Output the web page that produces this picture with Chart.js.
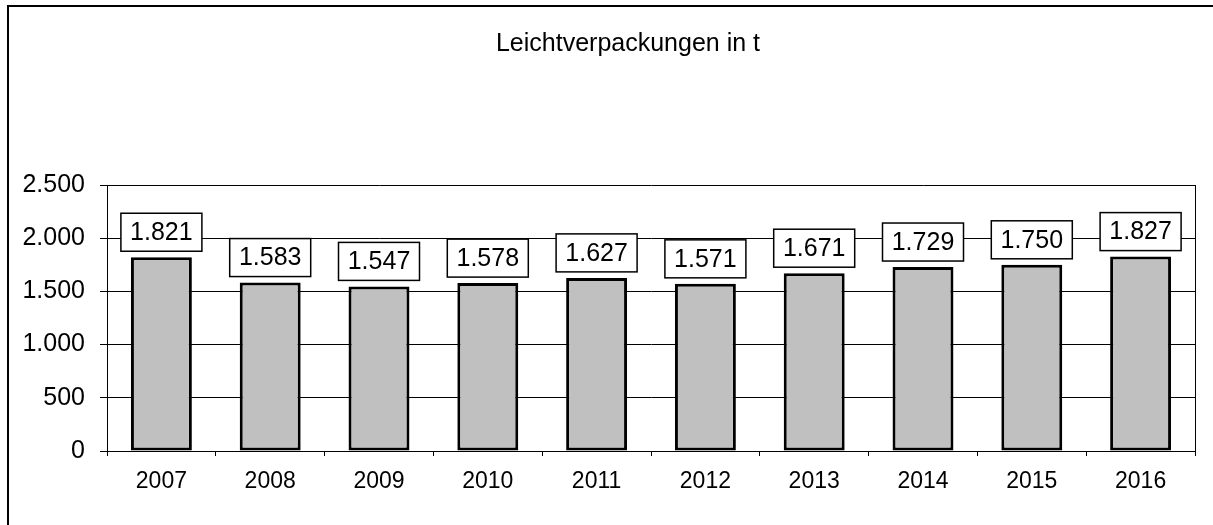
<!DOCTYPE html>
<html>
<head>
<meta charset="utf-8">
<script src="https://cdn.jsdelivr.net/npm/chart.js@4/dist/chart.umd.min.js"></script>
<style>
  html, body { margin: 0; padding: 0; background: #fff; }
  #wrap { width: 1213px; height: 525px; position: relative; }
</style>
</head>
<body>
<div id="wrap"><canvas id="c" width="1213" height="525"></canvas></div>
<script>
const titleText = 'Leichtverpackungen in t';
const years = ['2007','2008','2009','2010','2011','2012','2013','2014','2015','2016'];
const tonnes = [1821, 1583, 1547, 1578, 1627, 1571, 1671, 1729, 1750, 1827];
const yTickValues = [0, 500, 1000, 1500, 2000, 2500];
const yTickLabels = ['0', '500', '1.000', '1.500', '2.000', '2.500'];

function deFormat(v) {
  const s = String(Math.round(v));
  return s.replace(/\B(?=(\d{3})+(?!\d))/g, '.');
}

const FONT = '"Liberation Sans", Arial, sans-serif';

const decor = {
  id: 'decor',
  beforeDraw(chart) {
    const ctx = chart.ctx;
    ctx.save();
    ctx.fillStyle = '#fff';
    ctx.fillRect(0, 0, chart.width, chart.height);
    ctx.restore();
  },
  afterDraw(chart) {
    const ctx = chart.ctx;
    const ca = chart.chartArea;
    ctx.save();
    // outer frame (top and left visible)
    ctx.strokeStyle = '#000';
    ctx.lineWidth = 2;
    ctx.beginPath();
    ctx.moveTo(8, chart.height);
    ctx.lineTo(8, 6);
    ctx.lineTo(chart.width, 6);
    ctx.stroke();
    // right border of plot area
    ctx.lineWidth = 1;
    ctx.beginPath();
    ctx.moveTo(ca.right + 0.5, ca.top);
    ctx.lineTo(ca.right + 0.5, ca.bottom + 5);
    ctx.stroke();
    // title
    ctx.fillStyle = '#000';
    ctx.font = '25px ' + FONT;
    ctx.textAlign = 'center';
    ctx.textBaseline = 'middle';
    ctx.fillText(titleText, 628, 44);
    // value label boxes
    const meta = chart.getDatasetMeta(0);
    ctx.font = '25px ' + FONT;
    meta.data.forEach((bar, i) => {
      const v = chart.data.datasets[0].data[i];
      const bw = 81, bh = 38;
      const bottom = bar.y - 6;
      const top = bottom - bh;
      const left = bar.x - bw / 2;
      ctx.fillStyle = '#fff';
      ctx.fillRect(left, top, bw, bh);
      ctx.strokeStyle = '#000';
      ctx.lineWidth = 1.5;
      ctx.strokeRect(left, top, bw, bh);
      ctx.fillStyle = '#000';
      ctx.fillText(deFormat(v), bar.x, top + bh / 2 + 1);
    });
    ctx.restore();
  }
};

new Chart(document.getElementById('c'), {
  type: 'bar',
  data: {
    labels: years,
    datasets: [{
      data: tonnes,
      backgroundColor: '#c0c0c0',
      borderColor: '#000',
      borderWidth: 3,
      borderSkipped: false,
      categoryPercentage: 1.0,
      barPercentage: 0.56
    }]
  },
  options: {
    responsive: false,
    animation: false,
    devicePixelRatio: 1,
    layout: { padding: { top: 185, right: 18, bottom: 0, left: 0 } },
    plugins: {
      legend: { display: false },
      title: { display: false },
      tooltip: { enabled: false }
    },
    scales: {
      x: {
        offset: true,
        grid: { display: true, drawOnChartArea: false, drawTicks: true, tickLength: 5, color: '#000', lineWidth: 1, offset: true },
        border: { display: true, color: '#000', width: 1 },
        ticks: { color: '#000', font: { family: FONT, size: 23 }, padding: 12, maxRotation: 0 },
        afterFit(scale) { scale.height = 74; }
      },
      y: {
        min: 0,
        max: 2500,
        afterBuildTicks(scale) { scale.ticks = yTickValues.map(v => ({ value: v })); },
        grid: { color: '#000', lineWidth: 1, tickLength: 7, drawTicks: true },
        border: { display: true, color: '#000', width: 1 },
        ticks: {
          color: '#000',
          font: { family: FONT, size: 25 },
          padding: 15,
          callback(value) {
            const idx = yTickValues.indexOf(value);
            return idx >= 0 ? yTickLabels[idx] : '';
          }
        },
        afterFit(scale) { scale.width = 107; }
      }
    }
  },
  plugins: [decor]
});
</script>
</body>
</html>
